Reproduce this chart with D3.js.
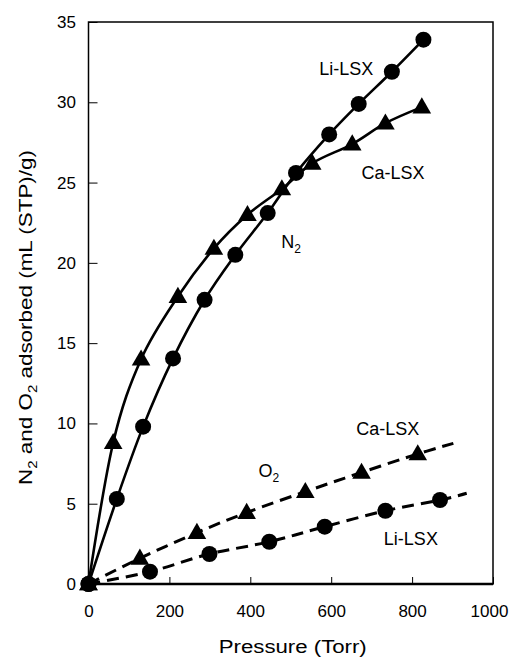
<!DOCTYPE html>
<html>
<head>
	<title>N2 and O2 adsorption</title>
	<meta charset='utf-8'>
	<style>
		body {
			margin: 0;
			background: #fff;
		}

		svg {
			display: block;
			font-family: 'Liberation Sans', Arial, sans-serif;
		}

		.frame {
			fill: none;
			stroke: #000;
			stroke-width: 1.5px;
		}

		.baseline {
			stroke: #000;
			stroke-width: 2.5px;
		}

		.line {
			fill: none;
			stroke: #000;
			stroke-width: 2.6px;
		}

		.line.dashed {
			stroke-width: 3px;
			stroke-dasharray: 12 7;
		}

		.tick > line {
			stroke: #000;
			stroke-width: 1px;
		}

		.tick > text {
			fill: #000;
			font-size: 17px;
		}

		.axis path.domain {
			display: none;
		}

		.mark {
			fill: #000;
		}

		.note {
			font-size: 18px;
			fill: #000;
		}
	</style>
</head>
<body>

<script src='https://d3js.org/d3.v7.min.js'></script>
<script>
	'use strict';

	// оси
	const xTicks = [0, 200, 400, 600, 800, 1000];
	const yTicks = [0, 5, 10, 15, 20, 25, 30, 35];

	// N2, Ca-LSX (треугольники)
	const n2CaP = [0, 61, 130, 221, 310, 393, 478, 553, 652, 734, 824];
	const n2CaV = [0, 8.8, 14.0, 17.9, 20.9, 23.0, 24.6, 26.2, 27.4, 28.7, 29.7];

	// N2, Li-LSX (кружки)
	const n2LiP = [0, 70, 135, 209, 287, 363, 443, 513, 595, 668, 750, 828];
	const n2LiV = [0, 5.3, 9.8, 14.05, 17.7, 20.5, 23.1, 25.6, 28.0, 29.9, 31.9, 33.9];

	// O2, Ca-LSX
	const o2CaP = [0, 127, 268, 391, 536, 675, 814];
	const o2CaV = [0, 1.6, 3.2, 4.45, 5.75, 6.95, 8.1];

	// O2, Li-LSX
	const o2LiP = [0, 152, 299, 447, 584, 734, 869];
	const o2LiV = [0, 0.77, 1.87, 2.63, 3.57, 4.56, 5.23];

	// штриховые линии O2 уходят дальше последней точки
	const o2CaLineEnd = [902, 8.76];
	const o2LiLineEnd = [935, 5.65];

	// подписи: текст, подстрочный индекс, P, значение
	const notes = [
		['Li-LSX', '', 637, 31.7],
		['Ca-LSX', '', 753, 25.2],
		['N', '2', 501, 20.9],
		['Ca-LSX', '', 740, 9.28],
		['O', '2', 446, 6.66],
		['Li-LSX', '', 797, 2.43]
	];

	const margin = {top: 22, right: 18, bottom: 73, left: 88.5};
	const width = 511 - margin.left - margin.right;
	const height = 657 - margin.top - margin.bottom;

	const xScale = d3.scaleLinear().domain([0, 1000]).range([0, width]);
	const yScale = d3.scaleLinear().domain([0, 35]).range([height, 0]);

	const zip = function(xs, ys) {
		return xs.map(function(x, i) {return {p: x, v: ys[i]};});
	};

	const n2Ca = zip(n2CaP, n2CaV);
	const n2Li = zip(n2LiP, n2LiV);
	const o2Ca = zip(o2CaP, o2CaV);
	const o2Li = zip(o2LiP, o2LiV);

	const valueline = d3.line()
		.curve(d3.curveCardinal.tension(0))
		.x(function(d) {return xScale(d.p);})
		.y(function(d) {return yScale(d.v);});

	const svg = d3.select('body').append('svg')
		.attr('width', 511)
		.attr('height', 657)
		.append('g')
		.attr('transform', 'translate(' + margin.left + ',' + margin.top + ')');

	svg.append('rect')
		.attr('class', 'frame')
		.attr('width', width)
		.attr('height', height);

	svg.append('line')
		.attr('class', 'baseline')
		.attr('x1', 0)
		.attr('x2', width)
		.attr('y1', height)
		.attr('y2', height);

	const xAxis = svg.append('g')
		.attr('class', 'axis axis__x')
		.attr('transform', 'translate(0,' + height + ')')
		.call(d3.axisBottom(xScale)
			.tickValues(xTicks)
			.tickFormat(d3.format('d'))
			.tickSize(-7)
			.tickPadding(21)
		)
		.attr('font-family', null)
		.attr('font-size', null);

	// 1000 у самого края — чуть сдвинем влево, чтобы влезло
	xAxis.selectAll('.tick text')
		.filter(function(d) {return d === 1000;})
		.attr('dx', -4);

	svg.append('g')
		.attr('class', 'axis axis__y')
		.call(d3.axisLeft(yScale)
			.tickValues(yTicks)
			.tickFormat(d3.format('d'))
			.tickSize(-9)
			.tickPadding(12.5)
		)
		.attr('font-family', null)
		.attr('font-size', null);

	// линии
	[n2Ca, n2Li].forEach(function(data) {
		svg.append('path')
			.datum(data)
			.attr('class', 'line')
			.attr('d', valueline);
	});

	[[o2Ca, o2CaLineEnd], [o2Li, o2LiLineEnd]].forEach(function(pair) {
		const data = pair[0].concat([{p: pair[1][0], v: pair[1][1]}]);
		svg.append('path')
			.datum(data)
			.attr('class', 'line dashed')
			.attr('d', valueline);
	});

	// маркеры
	const triangle = d3.symbol().type(d3.symbolTriangle).size(150);

	[n2Ca, o2Ca].forEach(function(data) {
		svg.selectAll(null)
			.data(data)
			.enter()
			.append('path')
			.attr('class', 'mark')
			.attr('d', triangle)
			.attr('transform', function(d) {
				return 'translate(' + xScale(d.p) + ',' + (yScale(d.v) + 1) + ')';
			});
	});

	[n2Li, o2Li].forEach(function(data) {
		svg.selectAll(null)
			.data(data)
			.enter()
			.append('circle')
			.attr('class', 'mark')
			.attr('r', 8)
			.attr('cx', function(d) {return xScale(d.p);})
			.attr('cy', function(d) {return yScale(d.v);});
	});

	// подписи серий
	notes.forEach(function(n) {
		const t = svg.append('text')
			.attr('class', 'note')
			.attr('text-anchor', 'middle')
			.attr('x', xScale(n[2]))
			.attr('y', yScale(n[3]));
		t.append('tspan').text(n[0]);
		if (n[1]) {
			t.append('tspan')
				.attr('font-size', '12px')
				.attr('dy', '5')
				.text(n[1]);
		}
	});

	// подписи осей
	svg.append('text')
		.attr('class', 'note')
		.attr('text-anchor', 'middle')
		.attr('x', width / 2 + 2)
		.attr('y', height + 69)
		.attr('textLength', 148)
		.attr('lengthAdjust', 'spacingAndGlyphs')
		.text('Pressure (Torr)');

	const yTitle = svg.append('text')
		.attr('class', 'note')
		.attr('text-anchor', 'middle')
		.attr('transform', 'translate(' + (32 - margin.left) + ',' + (317.5 - margin.top) + ') rotate(-90)')
		.attr('textLength', 335)
		.attr('lengthAdjust', 'spacingAndGlyphs');
	yTitle.append('tspan').text('N');
	yTitle.append('tspan').attr('font-size', '12px').attr('dy', 5).text('2');
	yTitle.append('tspan').attr('dy', -5).text(' and O');
	yTitle.append('tspan').attr('font-size', '12px').attr('dy', 5).text('2');
	yTitle.append('tspan').attr('dy', -5).text(' adsorbed (mL (STP)/g)');

</script>
</body>
</html>
